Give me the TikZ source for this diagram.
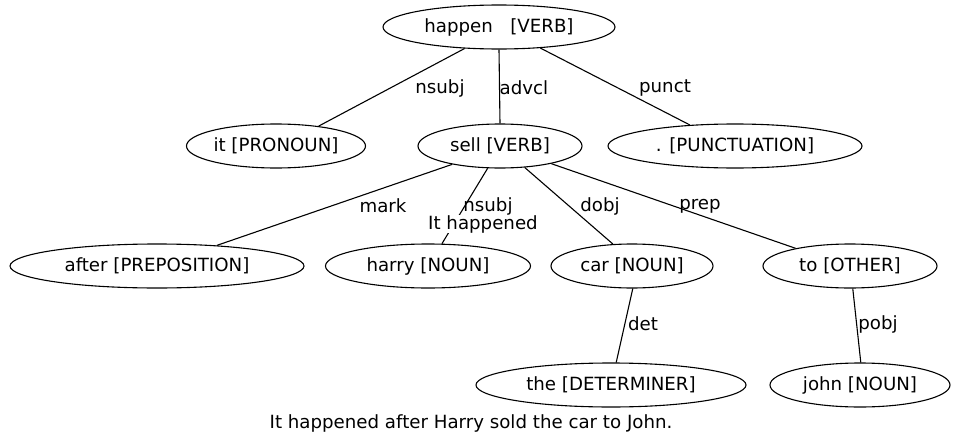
\documentclass[tikz,border=0pt]{standalone}
\usepackage{fontspec}
\setmainfont{DejaVu Sans}
\usetikzlibrary{shapes.geometric}

\begin{document}
\begin{tikzpicture}[
  x=1pt, y=-1pt,
  line width=1.1pt,
  font=\fontsize{18.2}{21}\selectfont,
  word/.style={
     ellipse,
     draw,
     inner sep=0pt,
     minimum height=44pt
  },
  rel/.style={
     inner sep=1pt
  }
]
   \useasboundingbox (0,0) rectangle (964,439);

   % The words of the parse tree
   \node[word,minimum width=232pt] (happen) at (499,27) {happen\ \ \ [VERB]};
   \node[word,minimum width=179pt] (it)     at (276,146) {it [PRONOUN]};
   \node[word,minimum width=164pt] (sell)   at (500,146) {sell [VERB]};
   \node[word,minimum width=254pt] (punct)  at (735,146) {. [PUNCTUATION]};
   \node[word,minimum width=294pt] (after)  at (157,266) {after [PREPOSITION]};
   \node[word,minimum width=205pt] (harry)  at (428,266) {harry [NOUN]};
   \node[word,minimum width=162pt] (car)    at (632,266) {car [NOUN]};
   \node[word,minimum width=174pt] (to)     at (850,266) {to [OTHER]};
   \node[word,minimum width=270pt] (the)    at (611,385) {the [DETERMINER]};
   \node[word,minimum width=180pt] (john)   at (860,385) {john [NOUN]};

   % The dependency edges
   \draw (happen.212) -- (it.25);
   \draw (happen.270) -- (sell.90);
   \draw (happen.333) -- (punct.155);
   \draw (sell.201) -- (after.19);
   \draw (sell.241) -- (harry.58);
   \draw (sell.319) -- (car.131);
   \draw (sell.341) -- (to.162);
   \draw (car.272) -- (the.77);
   \draw (to.277) -- (john.88);

   % The relation labels
   \node[rel] (l-nsubj) at (440,88) {nsubj};
   \node[rel] (l-advcl) at (524,88) {advcl};
   \node[rel] (l-punct) at (665,88) {punct};
   \node[rel] (l-mark)  at (383,206) {mark};
   \node[rel] (l-nsubj2) at (488,206) {nsubj};
   \node[rel,fill=white,inner sep=0pt] (l-note) at (483,224) {It happened};
   \node[rel] (l-dobj)  at (600,206) {dobj};
   \node[rel] (l-prep)  at (700,206) {prep};
   \node[rel] (l-det)   at (643,324) {det};
   \node[rel] (l-pobj)  at (878,324) {pobj};

   % The sentence itself
   \node (sentence) at (471,423) {It happened\ after Harry sold the car to John.};
\end{tikzpicture}
\end{document}
